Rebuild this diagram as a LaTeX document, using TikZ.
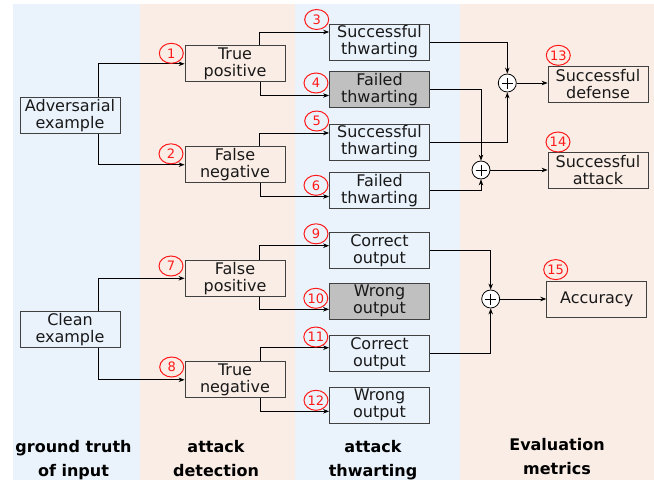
\documentclass[tikz,border=0pt]{standalone}
\usepackage{fontspec}
\setmainfont{DejaVu Sans}
\usetikzlibrary{arrows.meta,positioning,calc,shapes.geometric}
\definecolor{bandblue}{RGB}{234,243,252}
\definecolor{bandpink}{RGB}{250,237,229}
\definecolor{boxgray}{RGB}{192,192,192}
\definecolor{numred}{RGB}{255,25,25}

\begin{document}
\begin{tikzpicture}[x=1pt,y=-1pt,
  box/.style={draw=black!75, line width=0.8pt, minimum width=100pt, minimum height=36pt,
    inner sep=1pt, align=center, font=\fontsize{16}{17}\selectfont, text=black!90},
  grayed/.style={box, fill=boxgray},
  numc/.style={ellipse, draw=numred, text=numred, line width=1pt, minimum width=24pt,
    minimum height=20pt, inner sep=0pt, font=\fontsize{13}{13}\selectfont},
  sumnode/.style={circle, draw=black, fill=white, line width=0.8pt, minimum size=18pt, inner sep=0pt,
    path picture={\draw[line width=0.8pt]
      ([xshift=-5.5pt]path picture bounding box.center) -- ([xshift=5.5pt]path picture bounding box.center)
      ([yshift=-5.5pt]path picture bounding box.center) -- ([yshift=5.5pt]path picture bounding box.center);}},
  arr/.style={-{Stealth[length=6pt,width=4.5pt]}, line width=0.8pt},
  collabel/.style={anchor=north, align=center, inner sep=0pt, font=\bfseries\fontsize{16}{24}\selectfont}]
\useasboundingbox (0,0) rectangle (654,480);
% Column bands
\fill[bandblue] (13,4) rectangle (140,480);
\fill[bandpink] (140,4) rectangle (295,480);
\fill[bandblue] (295,4) rectangle (460,480);
\fill[bandpink] (460,4) rectangle (654,480);
% Ground truth
\node[box] (adv) at (70,115.3) {Adversarial\\example};
\node[box] (clean) at (70,329.5) {Clean\\example};
% Attack detection
\node[box] (tp) at (235,63.8) {True\\positive};
\node[box] (fn) at (235,164.7) {False\\negative};
\node[box] (fp) at (235,278.3) {False\\positive};
\node[box] (tn) at (235,379.8) {True\\negative};
% Attack thwarting
\node[box] (sthwA) at (379.5,42) {Successful\\thwarting};
\node[grayed] (fthwA) at (379.5,89.5) {Failed\\thwarting};
\node[box] (sthwB) at (379.5,142) {Successful\\thwarting};
\node[box] (fthwB) at (379.5,190.5) {Failed\\thwarting};
\node[box] (corA) at (379.5,250.7) {Correct\\output};
\node[grayed] (wrgA) at (379.5,301.3) {Wrong\\output};
\node[box] (corB) at (379.5,353.7) {Correct\\output};
\node[box] (wrgB) at (379.5,405.3) {Wrong\\output};
% Evaluation metrics
\node[sumnode] (sumA) at (507.3,83) {};
\node[sumnode] (sumB) at (481,170) {};
\node[sumnode] (sumC) at (490.7,299) {};
\node[box] (defense) at (598,84.5) {Successful\\defense};
\node[box] (attack) at (598,170.5) {Successful\\attack};
\node[box] (accuracy) at (596.7,299.7) {Accuracy};
% Connectors
\draw[arr] ([xshift=28pt]adv.north) |- (tp.west);
\draw[arr] ([xshift=28pt]adv.south) |- (fn.west);
\draw[arr] ([xshift=28pt]clean.north) |- (fp.west);
\draw[arr] ([xshift=28pt]clean.south) |- (tn.west);
\draw[arr] ([xshift=24pt]tp.north) |- ([yshift=10pt]sthwA.west);
\draw[arr] ([xshift=25pt]tp.south) |- ([yshift=-6pt]fthwA.west);
\draw[arr] ([xshift=24pt]fn.north) |- ([yshift=9pt]sthwB.west);
\draw[arr] ([xshift=25pt]fn.south) |- ([yshift=-6pt]fthwB.west);
\draw[arr] ([xshift=24pt]fp.north) |- ([yshift=5pt]corA.west);
\draw[arr] ([xshift=24pt]fp.south) |- ([yshift=-8pt]wrgA.west);
\draw[arr] ([xshift=25pt]tn.north) |- ([yshift=6pt]corB.west);
\draw[arr] ([xshift=25pt]tn.south) |- ([yshift=-6pt]wrgB.west);
\draw[arr] (sthwA.east) -| (sumA.north);
\draw[arr] (sthwB.east) -| (sumA.south);
\draw[arr] (fthwA.east) -| (sumB.north);
\draw[arr] (fthwB.east) -| (sumB.south);
\draw[arr] (corA.east) -| (sumC.north);
\draw[arr] (corB.east) -| (sumC.south);
\draw[arr] (sumA.east) -- (sumA.east -| defense.west);
\draw[arr] (sumB.east) -- (sumB.east -| attack.west);
\draw[arr] (sumC.east) -- (sumC.east -| accuracy.west);
% Numbered markers
\foreach \i/\x/\y in {1/171.3/53.3, 2/171/153.8, 3/316.7/19.5, 4/316/83, 5/316.7/121,
  6/316/185.3, 7/171/266, 8/171.7/367, 9/316/233.8, 10/315.8/298.3, 11/315.8/337,
  12/316/400.3, 13/558.3/55.3, 14/558/142, 15/555.7/269.6} {
  \node[numc] (n\i) at (\x,\y) {\i};
}
% Column labels
\node[collabel] (colA) at (73.5,440) {ground truth\\of input};
\node[collabel] (colB) at (216,440) {attack\\detection};
\node[collabel] (colC) at (373,440) {attack\\thwarting};
\node[collabel] (colD) at (557,438) {Evaluation\\metrics};
\end{tikzpicture}
\end{document}
